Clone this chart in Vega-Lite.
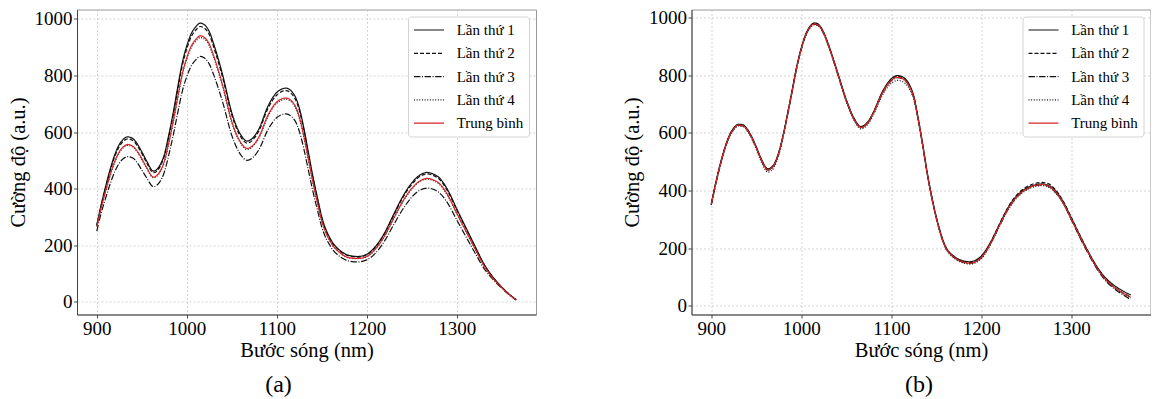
{
"$schema": "https://vega.github.io/schema/vega-lite/v6.json",
"background": "white",
"padding": {"left": 7, "top": 7.5, "right": 0, "bottom": 0},
"spacing": 155.5,
"bounds": "flush",
"config": {
  "font": "Liberation Serif",
  "view": {"stroke": "#999999", "strokeWidth": 1},
  "axis": {"labelFont": "Liberation Serif", "titleFont": "Liberation Serif"},
  "legend": {"labelFont": "Liberation Serif"},
  "title": {"font": "Liberation Serif", "fontSize": 24, "fontWeight": "normal", "color": "#000"}
},
"resolve": {"scale": {"color": "independent", "strokeDash": "independent", "strokeWidth": "independent"}},
"datasets": {
"a": [
{"s":"Lần thứ 1","x":900,"y":272},{"s":"Lần thứ 1","x":905,"y":345},{"s":"Lần thứ 1","x":910,"y":410},{"s":"Lần thứ 1","x":915,"y":470},{"s":"Lần thứ 1","x":920,"y":520},{"s":"Lần thứ 1","x":925,"y":556},{"s":"Lần thứ 1","x":930,"y":576},{"s":"Lần thứ 1","x":934,"y":583},{"s":"Lần thứ 1","x":940,"y":577},{"s":"Lần thứ 1","x":945,"y":558},{"s":"Lần thứ 1","x":950,"y":530},{"s":"Lần thứ 1","x":955,"y":500},{"s":"Lần thứ 1","x":963,"y":462},{"s":"Lần thứ 1","x":970,"y":482},{"s":"Lần thứ 1","x":975,"y":520},{"s":"Lần thứ 1","x":980,"y":590},{"s":"Lần thứ 1","x":985,"y":670},{"s":"Lần thứ 1","x":990,"y":760},{"s":"Lần thứ 1","x":995,"y":845},{"s":"Lần thứ 1","x":1000,"y":905},{"s":"Lần thứ 1","x":1005,"y":948},{"s":"Lần thứ 1","x":1010,"y":972},{"s":"Lần thứ 1","x":1015,"y":985},{"s":"Lần thứ 1","x":1020,"y":978},{"s":"Lần thứ 1","x":1025,"y":955},{"s":"Lần thứ 1","x":1030,"y":910},{"s":"Lần thứ 1","x":1040,"y":800},{"s":"Lần thứ 1","x":1050,"y":668},{"s":"Lần thứ 1","x":1060,"y":590},{"s":"Lần thứ 1","x":1067,"y":568},{"s":"Lần thứ 1","x":1075,"y":585},{"s":"Lần thứ 1","x":1080,"y":610},{"s":"Lần thứ 1","x":1090,"y":690},{"s":"Lần thứ 1","x":1100,"y":740},{"s":"Lần thứ 1","x":1110,"y":755},{"s":"Lần thứ 1","x":1120,"y":728},{"s":"Lần thứ 1","x":1125,"y":685},{"s":"Lần thứ 1","x":1130,"y":615},{"s":"Lần thứ 1","x":1135,"y":530},{"s":"Lần thứ 1","x":1140,"y":445},{"s":"Lần thứ 1","x":1145,"y":370},{"s":"Lần thứ 1","x":1150,"y":300},{"s":"Lần thứ 1","x":1160,"y":220},{"s":"Lần thứ 1","x":1170,"y":182},{"s":"Lần thứ 1","x":1180,"y":164},{"s":"Lần thứ 1","x":1190,"y":160},{"s":"Lần thứ 1","x":1200,"y":168},{"s":"Lần thứ 1","x":1210,"y":197},{"s":"Lần thứ 1","x":1220,"y":245},{"s":"Lần thứ 1","x":1230,"y":310},{"s":"Lần thứ 1","x":1240,"y":372},{"s":"Lần thứ 1","x":1250,"y":420},{"s":"Lần thứ 1","x":1260,"y":450},{"s":"Lần thứ 1","x":1267,"y":457},{"s":"Lần thứ 1","x":1275,"y":450},{"s":"Lần thứ 1","x":1280,"y":440},{"s":"Lần thứ 1","x":1290,"y":395},{"s":"Lần thứ 1","x":1300,"y":328},{"s":"Lần thứ 1","x":1310,"y":263},{"s":"Lần thứ 1","x":1320,"y":198},{"s":"Lần thứ 1","x":1330,"y":135},{"s":"Lần thứ 1","x":1340,"y":88},{"s":"Lần thứ 1","x":1350,"y":52},{"s":"Lần thứ 1","x":1360,"y":22},{"s":"Lần thứ 1","x":1366,"y":7},
{"s":"Lần thứ 2","x":900,"y":270},{"s":"Lần thứ 2","x":905,"y":341},{"s":"Lần thứ 2","x":910,"y":405},{"s":"Lần thứ 2","x":915,"y":464},{"s":"Lần thứ 2","x":920,"y":514},{"s":"Lần thứ 2","x":925,"y":549},{"s":"Lần thứ 2","x":930,"y":569},{"s":"Lần thứ 2","x":934,"y":576},{"s":"Lần thứ 2","x":940,"y":570},{"s":"Lần thứ 2","x":945,"y":551},{"s":"Lần thứ 2","x":950,"y":524},{"s":"Lần thứ 2","x":955,"y":494},{"s":"Lần thứ 2","x":963,"y":456},{"s":"Lần thứ 2","x":970,"y":476},{"s":"Lần thứ 2","x":975,"y":514},{"s":"Lần thứ 2","x":980,"y":583},{"s":"Lần thứ 2","x":985,"y":662},{"s":"Lần thứ 2","x":990,"y":751},{"s":"Lần thứ 2","x":995,"y":835},{"s":"Lần thứ 2","x":1000,"y":894},{"s":"Lần thứ 2","x":1005,"y":937},{"s":"Lần thứ 2","x":1010,"y":960},{"s":"Lần thứ 2","x":1015,"y":973},{"s":"Lần thứ 2","x":1020,"y":966},{"s":"Lần thứ 2","x":1025,"y":944},{"s":"Lần thứ 2","x":1030,"y":899},{"s":"Lần thứ 2","x":1040,"y":790},{"s":"Lần thứ 2","x":1050,"y":660},{"s":"Lần thứ 2","x":1060,"y":583},{"s":"Lần thứ 2","x":1067,"y":561},{"s":"Lần thứ 2","x":1075,"y":578},{"s":"Lần thứ 2","x":1080,"y":603},{"s":"Lần thứ 2","x":1090,"y":682},{"s":"Lần thứ 2","x":1100,"y":731},{"s":"Lần thứ 2","x":1110,"y":746},{"s":"Lần thứ 2","x":1120,"y":719},{"s":"Lần thứ 2","x":1125,"y":677},{"s":"Lần thứ 2","x":1130,"y":608},{"s":"Lần thứ 2","x":1135,"y":524},{"s":"Lần thứ 2","x":1140,"y":440},{"s":"Lần thứ 2","x":1145,"y":366},{"s":"Lần thứ 2","x":1150,"y":296},{"s":"Lần thứ 2","x":1160,"y":217},{"s":"Lần thứ 2","x":1170,"y":180},{"s":"Lần thứ 2","x":1180,"y":162},{"s":"Lần thứ 2","x":1190,"y":158},{"s":"Lần thứ 2","x":1200,"y":166},{"s":"Lần thứ 2","x":1210,"y":195},{"s":"Lần thứ 2","x":1220,"y":242},{"s":"Lần thứ 2","x":1230,"y":306},{"s":"Lần thứ 2","x":1240,"y":368},{"s":"Lần thứ 2","x":1250,"y":415},{"s":"Lần thứ 2","x":1260,"y":445},{"s":"Lần thứ 2","x":1267,"y":452},{"s":"Lần thứ 2","x":1275,"y":445},{"s":"Lần thứ 2","x":1280,"y":435},{"s":"Lần thứ 2","x":1290,"y":390},{"s":"Lần thứ 2","x":1300,"y":324},{"s":"Lần thứ 2","x":1310,"y":260},{"s":"Lần thứ 2","x":1320,"y":196},{"s":"Lần thứ 2","x":1330,"y":133},{"s":"Lần thứ 2","x":1340,"y":87},{"s":"Lần thứ 2","x":1350,"y":51},{"s":"Lần thứ 2","x":1360,"y":22},{"s":"Lần thứ 2","x":1366,"y":7},
{"s":"Lần thứ 3","x":900,"y":250},{"s":"Lần thứ 3","x":905,"y":315},{"s":"Lần thứ 3","x":910,"y":368},{"s":"Lần thứ 3","x":915,"y":418},{"s":"Lần thứ 3","x":920,"y":460},{"s":"Lần thứ 3","x":925,"y":490},{"s":"Lần thứ 3","x":930,"y":507},{"s":"Lần thứ 3","x":934,"y":513},{"s":"Lần thứ 3","x":940,"y":508},{"s":"Lần thứ 3","x":945,"y":491},{"s":"Lần thứ 3","x":950,"y":466},{"s":"Lần thứ 3","x":955,"y":440},{"s":"Lần thứ 3","x":963,"y":407},{"s":"Lần thứ 3","x":970,"y":424},{"s":"Lần thứ 3","x":975,"y":458},{"s":"Lần thứ 3","x":980,"y":519},{"s":"Lần thứ 3","x":985,"y":590},{"s":"Lần thứ 3","x":990,"y":669},{"s":"Lần thứ 3","x":995,"y":744},{"s":"Lần thứ 3","x":1000,"y":796},{"s":"Lần thứ 3","x":1005,"y":834},{"s":"Lần thứ 3","x":1010,"y":855},{"s":"Lần thứ 3","x":1015,"y":867},{"s":"Lần thứ 3","x":1020,"y":861},{"s":"Lần thứ 3","x":1025,"y":840},{"s":"Lần thứ 3","x":1030,"y":801},{"s":"Lần thứ 3","x":1040,"y":704},{"s":"Lần thứ 3","x":1050,"y":588},{"s":"Lần thứ 3","x":1060,"y":519},{"s":"Lần thứ 3","x":1067,"y":500},{"s":"Lần thứ 3","x":1075,"y":515},{"s":"Lần thứ 3","x":1080,"y":537},{"s":"Lần thứ 3","x":1090,"y":607},{"s":"Lần thứ 3","x":1100,"y":651},{"s":"Lần thứ 3","x":1110,"y":664},{"s":"Lần thứ 3","x":1120,"y":641},{"s":"Lần thứ 3","x":1125,"y":603},{"s":"Lần thứ 3","x":1130,"y":541},{"s":"Lần thứ 3","x":1135,"y":466},{"s":"Lần thứ 3","x":1140,"y":392},{"s":"Lần thứ 3","x":1145,"y":326},{"s":"Lần thứ 3","x":1150,"y":264},{"s":"Lần thứ 3","x":1160,"y":194},{"s":"Lần thứ 3","x":1170,"y":160},{"s":"Lần thứ 3","x":1180,"y":144},{"s":"Lần thứ 3","x":1190,"y":141},{"s":"Lần thứ 3","x":1200,"y":148},{"s":"Lần thứ 3","x":1210,"y":173},{"s":"Lần thứ 3","x":1220,"y":216},{"s":"Lần thứ 3","x":1230,"y":273},{"s":"Lần thứ 3","x":1240,"y":327},{"s":"Lần thứ 3","x":1250,"y":370},{"s":"Lần thứ 3","x":1260,"y":396},{"s":"Lần thứ 3","x":1267,"y":402},{"s":"Lần thứ 3","x":1275,"y":396},{"s":"Lần thứ 3","x":1280,"y":387},{"s":"Lần thứ 3","x":1290,"y":348},{"s":"Lần thứ 3","x":1300,"y":289},{"s":"Lần thứ 3","x":1310,"y":231},{"s":"Lần thứ 3","x":1320,"y":174},{"s":"Lần thứ 3","x":1330,"y":119},{"s":"Lần thứ 3","x":1340,"y":80},{"s":"Lần thứ 3","x":1350,"y":48},{"s":"Lần thứ 3","x":1360,"y":20},{"s":"Lần thứ 3","x":1366,"y":6},
{"s":"Lần thứ 4","x":900,"y":268},{"s":"Lần thứ 4","x":905,"y":333},{"s":"Lần thứ 4","x":910,"y":392},{"s":"Lần thứ 4","x":915,"y":447},{"s":"Lần thứ 4","x":920,"y":493},{"s":"Lần thứ 4","x":925,"y":527},{"s":"Lần thứ 4","x":930,"y":546},{"s":"Lần thứ 4","x":934,"y":553},{"s":"Lần thứ 4","x":940,"y":547},{"s":"Lần thứ 4","x":945,"y":529},{"s":"Lần thứ 4","x":950,"y":502},{"s":"Lần thứ 4","x":955,"y":474},{"s":"Lần thứ 4","x":963,"y":438},{"s":"Lần thứ 4","x":970,"y":457},{"s":"Lần thứ 4","x":975,"y":493},{"s":"Lần thứ 4","x":980,"y":559},{"s":"Lần thứ 4","x":985,"y":635},{"s":"Lần thứ 4","x":990,"y":720},{"s":"Lần thứ 4","x":995,"y":801},{"s":"Lần thứ 4","x":1000,"y":858},{"s":"Lần thứ 4","x":1005,"y":899},{"s":"Lần thứ 4","x":1010,"y":921},{"s":"Lần thứ 4","x":1015,"y":934},{"s":"Lần thứ 4","x":1020,"y":927},{"s":"Lần thứ 4","x":1025,"y":905},{"s":"Lần thứ 4","x":1030,"y":863},{"s":"Lần thứ 4","x":1040,"y":758},{"s":"Lần thứ 4","x":1050,"y":633},{"s":"Lần thứ 4","x":1060,"y":559},{"s":"Lần thứ 4","x":1067,"y":538},{"s":"Lần thứ 4","x":1075,"y":555},{"s":"Lần thứ 4","x":1080,"y":578},{"s":"Lần thứ 4","x":1090,"y":654},{"s":"Lần thứ 4","x":1100,"y":702},{"s":"Lần thứ 4","x":1110,"y":716},{"s":"Lần thứ 4","x":1120,"y":690},{"s":"Lần thứ 4","x":1125,"y":649},{"s":"Lần thứ 4","x":1130,"y":583},{"s":"Lần thứ 4","x":1135,"y":502},{"s":"Lần thứ 4","x":1140,"y":422},{"s":"Lần thứ 4","x":1145,"y":351},{"s":"Lần thứ 4","x":1150,"y":284},{"s":"Lần thứ 4","x":1160,"y":209},{"s":"Lần thứ 4","x":1170,"y":173},{"s":"Lần thứ 4","x":1180,"y":155},{"s":"Lần thứ 4","x":1190,"y":152},{"s":"Lần thứ 4","x":1200,"y":159},{"s":"Lần thứ 4","x":1210,"y":187},{"s":"Lần thứ 4","x":1220,"y":232},{"s":"Lần thứ 4","x":1230,"y":294},{"s":"Lần thứ 4","x":1240,"y":353},{"s":"Lần thứ 4","x":1250,"y":398},{"s":"Lần thứ 4","x":1260,"y":427},{"s":"Lần thứ 4","x":1267,"y":433},{"s":"Lần thứ 4","x":1275,"y":427},{"s":"Lần thứ 4","x":1280,"y":417},{"s":"Lần thứ 4","x":1290,"y":374},{"s":"Lần thứ 4","x":1300,"y":311},{"s":"Lần thứ 4","x":1310,"y":249},{"s":"Lần thứ 4","x":1320,"y":188},{"s":"Lần thứ 4","x":1330,"y":128},{"s":"Lần thứ 4","x":1340,"y":84},{"s":"Lần thứ 4","x":1350,"y":50},{"s":"Lần thứ 4","x":1360,"y":21},{"s":"Lần thứ 4","x":1366,"y":7},
{"s":"Trung bình","x":900,"y":265},{"s":"Trung bình","x":905,"y":334},{"s":"Trung bình","x":910,"y":394},{"s":"Trung bình","x":915,"y":450},{"s":"Trung bình","x":920,"y":497},{"s":"Trung bình","x":925,"y":530},{"s":"Trung bình","x":930,"y":549},{"s":"Trung bình","x":934,"y":556},{"s":"Trung bình","x":940,"y":550},{"s":"Trung bình","x":945,"y":532},{"s":"Trung bình","x":950,"y":506},{"s":"Trung bình","x":955,"y":477},{"s":"Trung bình","x":963,"y":441},{"s":"Trung bình","x":970,"y":460},{"s":"Trung bình","x":975,"y":496},{"s":"Trung bình","x":980,"y":563},{"s":"Trung bình","x":985,"y":639},{"s":"Trung bình","x":990,"y":725},{"s":"Trung bình","x":995,"y":806},{"s":"Trung bình","x":1000,"y":863},{"s":"Trung bình","x":1005,"y":904},{"s":"Trung bình","x":1010,"y":927},{"s":"Trung bình","x":1015,"y":940},{"s":"Trung bình","x":1020,"y":933},{"s":"Trung bình","x":1025,"y":911},{"s":"Trung bình","x":1030,"y":868},{"s":"Trung bình","x":1040,"y":763},{"s":"Trung bình","x":1050,"y":637},{"s":"Trung bình","x":1060,"y":563},{"s":"Trung bình","x":1067,"y":542},{"s":"Trung bình","x":1075,"y":558},{"s":"Trung bình","x":1080,"y":582},{"s":"Trung bình","x":1090,"y":658},{"s":"Trung bình","x":1100,"y":706},{"s":"Trung bình","x":1110,"y":720},{"s":"Trung bình","x":1120,"y":695},{"s":"Trung bình","x":1125,"y":653},{"s":"Trung bình","x":1130,"y":587},{"s":"Trung bình","x":1135,"y":506},{"s":"Trung bình","x":1140,"y":425},{"s":"Trung bình","x":1145,"y":353},{"s":"Trung bình","x":1150,"y":286},{"s":"Trung bình","x":1160,"y":210},{"s":"Trung bình","x":1170,"y":174},{"s":"Trung bình","x":1180,"y":156},{"s":"Trung bình","x":1190,"y":153},{"s":"Trung bình","x":1200,"y":160},{"s":"Trung bình","x":1210,"y":188},{"s":"Trung bình","x":1220,"y":234},{"s":"Trung bình","x":1230,"y":296},{"s":"Trung bình","x":1240,"y":355},{"s":"Trung bình","x":1250,"y":401},{"s":"Trung bình","x":1260,"y":429},{"s":"Trung bình","x":1267,"y":436},{"s":"Trung bình","x":1275,"y":429},{"s":"Trung bình","x":1280,"y":420},{"s":"Trung bình","x":1290,"y":377},{"s":"Trung bình","x":1300,"y":313},{"s":"Trung bình","x":1310,"y":251},{"s":"Trung bình","x":1320,"y":189},{"s":"Trung bình","x":1330,"y":129},{"s":"Trung bình","x":1340,"y":84},{"s":"Trung bình","x":1350,"y":50},{"s":"Trung bình","x":1360,"y":21},{"s":"Trung bình","x":1366,"y":7}
],
"b": [
{"s":"Lần thứ 1","x":900,"y":355},{"s":"Lần thứ 1","x":905,"y":428},{"s":"Lần thứ 1","x":910,"y":493},{"s":"Lần thứ 1","x":915,"y":548},{"s":"Lần thứ 1","x":920,"y":591},{"s":"Lần thứ 1","x":925,"y":617},{"s":"Lần thứ 1","x":930,"y":630},{"s":"Lần thứ 1","x":935,"y":628},{"s":"Lần thứ 1","x":940,"y":613},{"s":"Lần thứ 1","x":945,"y":586},{"s":"Lần thứ 1","x":950,"y":551},{"s":"Lần thứ 1","x":955,"y":513},{"s":"Lần thứ 1","x":963,"y":475},{"s":"Lần thứ 1","x":970,"y":493},{"s":"Lần thứ 1","x":975,"y":533},{"s":"Lần thứ 1","x":980,"y":595},{"s":"Lần thứ 1","x":985,"y":671},{"s":"Lần thứ 1","x":990,"y":751},{"s":"Lần thứ 1","x":995,"y":831},{"s":"Lần thứ 1","x":1000,"y":895},{"s":"Lần thứ 1","x":1005,"y":943},{"s":"Lần thứ 1","x":1010,"y":971},{"s":"Lần thứ 1","x":1015,"y":981},{"s":"Lần thứ 1","x":1020,"y":973},{"s":"Lần thứ 1","x":1025,"y":948},{"s":"Lần thứ 1","x":1030,"y":908},{"s":"Lần thứ 1","x":1040,"y":813},{"s":"Lần thứ 1","x":1050,"y":715},{"s":"Lần thứ 1","x":1060,"y":643},{"s":"Lần thứ 1","x":1066,"y":622},{"s":"Lần thứ 1","x":1075,"y":643},{"s":"Lần thứ 1","x":1080,"y":671},{"s":"Lần thứ 1","x":1090,"y":742},{"s":"Lần thứ 1","x":1100,"y":788},{"s":"Lần thứ 1","x":1107,"y":799},{"s":"Lần thứ 1","x":1115,"y":789},{"s":"Lần thứ 1","x":1120,"y":768},{"s":"Lần thứ 1","x":1125,"y":727},{"s":"Lần thứ 1","x":1130,"y":649},{"s":"Lần thứ 1","x":1135,"y":558},{"s":"Lần thứ 1","x":1140,"y":461},{"s":"Lần thứ 1","x":1145,"y":378},{"s":"Lần thứ 1","x":1150,"y":308},{"s":"Lần thứ 1","x":1160,"y":208},{"s":"Lần thứ 1","x":1170,"y":171},{"s":"Lần thứ 1","x":1180,"y":156},{"s":"Lần thứ 1","x":1187,"y":153},{"s":"Lần thứ 1","x":1200,"y":173},{"s":"Lần thứ 1","x":1210,"y":219},{"s":"Lần thứ 1","x":1220,"y":281},{"s":"Lần thứ 1","x":1230,"y":341},{"s":"Lần thứ 1","x":1240,"y":383},{"s":"Lần thứ 1","x":1250,"y":408},{"s":"Lần thứ 1","x":1260,"y":420},{"s":"Lần thứ 1","x":1268,"y":423},{"s":"Lần thứ 1","x":1275,"y":417},{"s":"Lần thứ 1","x":1280,"y":407},{"s":"Lần thứ 1","x":1290,"y":366},{"s":"Lần thứ 1","x":1300,"y":305},{"s":"Lần thứ 1","x":1310,"y":241},{"s":"Lần thứ 1","x":1320,"y":181},{"s":"Lần thứ 1","x":1330,"y":129},{"s":"Lần thứ 1","x":1340,"y":91},{"s":"Lần thứ 1","x":1350,"y":66},{"s":"Lần thứ 1","x":1360,"y":47},{"s":"Lần thứ 1","x":1366,"y":38},
{"s":"Lần thứ 2","x":900,"y":354},{"s":"Lần thứ 2","x":905,"y":427},{"s":"Lần thứ 2","x":910,"y":492},{"s":"Lần thứ 2","x":915,"y":547},{"s":"Lần thứ 2","x":920,"y":590},{"s":"Lần thứ 2","x":925,"y":616},{"s":"Lần thứ 2","x":930,"y":629},{"s":"Lần thứ 2","x":935,"y":627},{"s":"Lần thứ 2","x":940,"y":612},{"s":"Lần thứ 2","x":945,"y":585},{"s":"Lần thứ 2","x":950,"y":550},{"s":"Lần thứ 2","x":955,"y":512},{"s":"Lần thứ 2","x":963,"y":474},{"s":"Lần thứ 2","x":970,"y":492},{"s":"Lần thứ 2","x":975,"y":532},{"s":"Lần thứ 2","x":980,"y":594},{"s":"Lần thứ 2","x":985,"y":670},{"s":"Lần thứ 2","x":990,"y":750},{"s":"Lần thứ 2","x":995,"y":830},{"s":"Lần thứ 2","x":1000,"y":894},{"s":"Lần thứ 2","x":1005,"y":942},{"s":"Lần thứ 2","x":1010,"y":970},{"s":"Lần thứ 2","x":1015,"y":982},{"s":"Lần thứ 2","x":1020,"y":974},{"s":"Lần thứ 2","x":1025,"y":947},{"s":"Lần thứ 2","x":1030,"y":907},{"s":"Lần thứ 2","x":1040,"y":812},{"s":"Lần thứ 2","x":1050,"y":714},{"s":"Lần thứ 2","x":1060,"y":642},{"s":"Lần thứ 2","x":1066,"y":621},{"s":"Lần thứ 2","x":1075,"y":642},{"s":"Lần thứ 2","x":1080,"y":670},{"s":"Lần thứ 2","x":1090,"y":740},{"s":"Lần thứ 2","x":1100,"y":785},{"s":"Lần thứ 2","x":1107,"y":796},{"s":"Lần thứ 2","x":1115,"y":786},{"s":"Lần thứ 2","x":1120,"y":765},{"s":"Lần thứ 2","x":1125,"y":725},{"s":"Lần thứ 2","x":1130,"y":648},{"s":"Lần thứ 2","x":1135,"y":558},{"s":"Lần thứ 2","x":1140,"y":461},{"s":"Lần thứ 2","x":1145,"y":378},{"s":"Lần thứ 2","x":1150,"y":308},{"s":"Lần thứ 2","x":1160,"y":207},{"s":"Lần thứ 2","x":1170,"y":170},{"s":"Lần thứ 2","x":1180,"y":154},{"s":"Lần thứ 2","x":1187,"y":150},{"s":"Lần thứ 2","x":1200,"y":170},{"s":"Lần thứ 2","x":1210,"y":218},{"s":"Lần thứ 2","x":1220,"y":283},{"s":"Lần thứ 2","x":1230,"y":344},{"s":"Lần thứ 2","x":1240,"y":387},{"s":"Lần thứ 2","x":1250,"y":412},{"s":"Lần thứ 2","x":1260,"y":425},{"s":"Lần thứ 2","x":1268,"y":428},{"s":"Lần thứ 2","x":1275,"y":423},{"s":"Lần thứ 2","x":1280,"y":411},{"s":"Lần thứ 2","x":1290,"y":369},{"s":"Lần thứ 2","x":1300,"y":307},{"s":"Lần thứ 2","x":1310,"y":242},{"s":"Lần thứ 2","x":1320,"y":181},{"s":"Lần thứ 2","x":1330,"y":127},{"s":"Lần thứ 2","x":1340,"y":87},{"s":"Lần thứ 2","x":1350,"y":60},{"s":"Lần thứ 2","x":1360,"y":40},{"s":"Lần thứ 2","x":1366,"y":32},
{"s":"Lần thứ 3","x":900,"y":350},{"s":"Lần thứ 3","x":905,"y":423},{"s":"Lần thứ 3","x":910,"y":488},{"s":"Lần thứ 3","x":915,"y":544},{"s":"Lần thứ 3","x":920,"y":587},{"s":"Lần thứ 3","x":925,"y":613},{"s":"Lần thứ 3","x":930,"y":626},{"s":"Lần thứ 3","x":935,"y":624},{"s":"Lần thứ 3","x":940,"y":609},{"s":"Lần thứ 3","x":945,"y":582},{"s":"Lần thứ 3","x":950,"y":547},{"s":"Lần thứ 3","x":955,"y":509},{"s":"Lần thứ 3","x":963,"y":471},{"s":"Lần thứ 3","x":970,"y":489},{"s":"Lần thứ 3","x":975,"y":529},{"s":"Lần thứ 3","x":980,"y":591},{"s":"Lần thứ 3","x":985,"y":667},{"s":"Lần thứ 3","x":990,"y":747},{"s":"Lần thứ 3","x":995,"y":827},{"s":"Lần thứ 3","x":1000,"y":891},{"s":"Lần thứ 3","x":1005,"y":939},{"s":"Lần thứ 3","x":1010,"y":967},{"s":"Lần thứ 3","x":1015,"y":977},{"s":"Lần thứ 3","x":1020,"y":969},{"s":"Lần thứ 3","x":1025,"y":944},{"s":"Lần thứ 3","x":1030,"y":904},{"s":"Lần thứ 3","x":1040,"y":809},{"s":"Lần thứ 3","x":1050,"y":711},{"s":"Lần thứ 3","x":1060,"y":639},{"s":"Lần thứ 3","x":1066,"y":618},{"s":"Lần thứ 3","x":1075,"y":639},{"s":"Lần thứ 3","x":1080,"y":667},{"s":"Lần thứ 3","x":1090,"y":737},{"s":"Lần thứ 3","x":1100,"y":781},{"s":"Lần thứ 3","x":1107,"y":792},{"s":"Lần thứ 3","x":1115,"y":782},{"s":"Lần thứ 3","x":1120,"y":761},{"s":"Lần thứ 3","x":1125,"y":721},{"s":"Lần thứ 3","x":1130,"y":644},{"s":"Lần thứ 3","x":1135,"y":554},{"s":"Lần thứ 3","x":1140,"y":457},{"s":"Lần thứ 3","x":1145,"y":374},{"s":"Lần thứ 3","x":1150,"y":304},{"s":"Lần thứ 3","x":1160,"y":204},{"s":"Lần thứ 3","x":1170,"y":167},{"s":"Lần thứ 3","x":1180,"y":151},{"s":"Lần thứ 3","x":1187,"y":147},{"s":"Lần thứ 3","x":1200,"y":167},{"s":"Lần thứ 3","x":1210,"y":214},{"s":"Lần thứ 3","x":1220,"y":277},{"s":"Lần thứ 3","x":1230,"y":337},{"s":"Lần thứ 3","x":1240,"y":379},{"s":"Lần thứ 3","x":1250,"y":404},{"s":"Lần thứ 3","x":1260,"y":417},{"s":"Lần thứ 3","x":1268,"y":420},{"s":"Lần thứ 3","x":1275,"y":414},{"s":"Lần thứ 3","x":1280,"y":402},{"s":"Lần thứ 3","x":1290,"y":361},{"s":"Lần thứ 3","x":1300,"y":299},{"s":"Lần thứ 3","x":1310,"y":234},{"s":"Lần thứ 3","x":1320,"y":174},{"s":"Lần thứ 3","x":1330,"y":121},{"s":"Lần thứ 3","x":1340,"y":81},{"s":"Lần thứ 3","x":1350,"y":54},{"s":"Lần thứ 3","x":1360,"y":33},{"s":"Lần thứ 3","x":1366,"y":22},
{"s":"Lần thứ 4","x":900,"y":349},{"s":"Lần thứ 4","x":905,"y":422},{"s":"Lần thứ 4","x":910,"y":487},{"s":"Lần thứ 4","x":915,"y":542},{"s":"Lần thứ 4","x":920,"y":585},{"s":"Lần thứ 4","x":925,"y":611},{"s":"Lần thứ 4","x":930,"y":624},{"s":"Lần thứ 4","x":935,"y":622},{"s":"Lần thứ 4","x":940,"y":607},{"s":"Lần thứ 4","x":945,"y":579},{"s":"Lần thứ 4","x":950,"y":543},{"s":"Lần thứ 4","x":955,"y":503},{"s":"Lần thứ 4","x":963,"y":464},{"s":"Lần thứ 4","x":970,"y":482},{"s":"Lần thứ 4","x":975,"y":524},{"s":"Lần thứ 4","x":980,"y":588},{"s":"Lần thứ 4","x":985,"y":665},{"s":"Lần thứ 4","x":990,"y":745},{"s":"Lần thứ 4","x":995,"y":825},{"s":"Lần thứ 4","x":1000,"y":889},{"s":"Lần thứ 4","x":1005,"y":937},{"s":"Lần thứ 4","x":1010,"y":965},{"s":"Lần thứ 4","x":1015,"y":975},{"s":"Lần thứ 4","x":1020,"y":967},{"s":"Lần thứ 4","x":1025,"y":942},{"s":"Lần thứ 4","x":1030,"y":902},{"s":"Lần thứ 4","x":1040,"y":806},{"s":"Lần thứ 4","x":1050,"y":708},{"s":"Lần thứ 4","x":1060,"y":636},{"s":"Lần thứ 4","x":1066,"y":614},{"s":"Lần thứ 4","x":1075,"y":634},{"s":"Lần thứ 4","x":1080,"y":662},{"s":"Lần thứ 4","x":1090,"y":730},{"s":"Lần thứ 4","x":1100,"y":772},{"s":"Lần thứ 4","x":1107,"y":782},{"s":"Lần thứ 4","x":1115,"y":773},{"s":"Lần thứ 4","x":1120,"y":753},{"s":"Lần thứ 4","x":1125,"y":715},{"s":"Lần thứ 4","x":1130,"y":640},{"s":"Lần thứ 4","x":1135,"y":551},{"s":"Lần thứ 4","x":1140,"y":455},{"s":"Lần thứ 4","x":1145,"y":372},{"s":"Lần thứ 4","x":1150,"y":302},{"s":"Lần thứ 4","x":1160,"y":202},{"s":"Lần thứ 4","x":1170,"y":165},{"s":"Lần thứ 4","x":1180,"y":149},{"s":"Lần thứ 4","x":1187,"y":145},{"s":"Lần thứ 4","x":1200,"y":164},{"s":"Lần thứ 4","x":1210,"y":211},{"s":"Lần thứ 4","x":1220,"y":274},{"s":"Lần thứ 4","x":1230,"y":334},{"s":"Lần thứ 4","x":1240,"y":376},{"s":"Lần thứ 4","x":1250,"y":401},{"s":"Lần thứ 4","x":1260,"y":414},{"s":"Lần thứ 4","x":1268,"y":417},{"s":"Lần thứ 4","x":1275,"y":411},{"s":"Lần thứ 4","x":1280,"y":400},{"s":"Lần thứ 4","x":1290,"y":360},{"s":"Lần thứ 4","x":1300,"y":299},{"s":"Lần thứ 4","x":1310,"y":236},{"s":"Lần thứ 4","x":1320,"y":177},{"s":"Lần thứ 4","x":1330,"y":124},{"s":"Lần thứ 4","x":1340,"y":85},{"s":"Lần thứ 4","x":1350,"y":58},{"s":"Lần thứ 4","x":1360,"y":38},{"s":"Lần thứ 4","x":1366,"y":28},
{"s":"Trung bình","x":900,"y":352},{"s":"Trung bình","x":905,"y":425},{"s":"Trung bình","x":910,"y":490},{"s":"Trung bình","x":915,"y":545},{"s":"Trung bình","x":920,"y":588},{"s":"Trung bình","x":925,"y":614},{"s":"Trung bình","x":930,"y":627},{"s":"Trung bình","x":935,"y":625},{"s":"Trung bình","x":940,"y":610},{"s":"Trung bình","x":945,"y":583},{"s":"Trung bình","x":950,"y":548},{"s":"Trung bình","x":955,"y":510},{"s":"Trung bình","x":963,"y":472},{"s":"Trung bình","x":970,"y":490},{"s":"Trung bình","x":975,"y":530},{"s":"Trung bình","x":980,"y":592},{"s":"Trung bình","x":985,"y":668},{"s":"Trung bình","x":990,"y":748},{"s":"Trung bình","x":995,"y":828},{"s":"Trung bình","x":1000,"y":892},{"s":"Trung bình","x":1005,"y":940},{"s":"Trung bình","x":1010,"y":968},{"s":"Trung bình","x":1015,"y":978},{"s":"Trung bình","x":1020,"y":970},{"s":"Trung bình","x":1025,"y":945},{"s":"Trung bình","x":1030,"y":905},{"s":"Trung bình","x":1040,"y":810},{"s":"Trung bình","x":1050,"y":712},{"s":"Trung bình","x":1060,"y":640},{"s":"Trung bình","x":1066,"y":619},{"s":"Trung bình","x":1075,"y":640},{"s":"Trung bình","x":1080,"y":668},{"s":"Trung bình","x":1090,"y":738},{"s":"Trung bình","x":1100,"y":782},{"s":"Trung bình","x":1107,"y":793},{"s":"Trung bình","x":1115,"y":783},{"s":"Trung bình","x":1120,"y":762},{"s":"Trung bình","x":1125,"y":722},{"s":"Trung bình","x":1130,"y":645},{"s":"Trung bình","x":1135,"y":555},{"s":"Trung bình","x":1140,"y":458},{"s":"Trung bình","x":1145,"y":375},{"s":"Trung bình","x":1150,"y":305},{"s":"Trung bình","x":1160,"y":205},{"s":"Trung bình","x":1170,"y":168},{"s":"Trung bình","x":1180,"y":152},{"s":"Trung bình","x":1187,"y":148},{"s":"Trung bình","x":1200,"y":168},{"s":"Trung bình","x":1210,"y":215},{"s":"Trung bình","x":1220,"y":278},{"s":"Trung bình","x":1230,"y":338},{"s":"Trung bình","x":1240,"y":380},{"s":"Trung bình","x":1250,"y":405},{"s":"Trung bình","x":1260,"y":418},{"s":"Trung bình","x":1268,"y":421},{"s":"Trung bình","x":1275,"y":415},{"s":"Trung bình","x":1280,"y":404},{"s":"Trung bình","x":1290,"y":363},{"s":"Trung bình","x":1300,"y":302},{"s":"Trung bình","x":1310,"y":238},{"s":"Trung bình","x":1320,"y":178},{"s":"Trung bình","x":1330,"y":125},{"s":"Trung bình","x":1340,"y":86},{"s":"Trung bình","x":1350,"y":60},{"s":"Trung bình","x":1360,"y":40},{"s":"Trung bình","x":1366,"y":30}
]
},
"hconcat": [
{
  "data": {"name": "a"},
  "width": 459, "height": 305,
  "title": {"text": "(a)", "orient": "bottom", "anchor": "middle", "dx": -28, "offset": 12, "font": "Liberation Serif", "fontSize": 24, "fontWeight": "normal", "color": "#000"},
  "mark": {"type": "line", "interpolate": "monotone"},
  "encoding": {
    "x": {"field": "x", "type": "quantitative", "scale": {"domain": [878, 1388], "nice": false, "zero": false}, "axis": {"title": "Bước sóng (nm)", "values": [900, 1000, 1100, 1200, 1300], "format": "d", "labelFont": "Liberation Serif", "titleFont": "Liberation Serif", "labelFontSize": 19, "titleFontSize": 20.5, "titleFontWeight": "normal", "labelColor": "#000", "titleColor": "#000", "domainColor": "#444", "tickColor": "#444", "tickSize": 3.5, "gridColor": "#c8c8c8", "gridDash": [2, 2], "gridWidth": 0.8, "labelPadding": 1, "titlePadding": 2}},
    "y": {"field": "y", "type": "quantitative", "scale": {"domain": [-45, 1033], "nice": false, "zero": false}, "axis": {"title": "Cường độ (a.u.)", "values": [0, 200, 400, 600, 800, 1000], "format": "d", "labelFont": "Liberation Serif", "titleFont": "Liberation Serif", "labelFontSize": 19, "titleFontSize": 20.5, "titleFontWeight": "normal", "labelColor": "#000", "titleColor": "#000", "domainColor": "#444", "tickColor": "#444", "tickSize": 3.5, "gridColor": "#c8c8c8", "gridDash": [2, 2], "gridWidth": 0.8, "labelPadding": 1.5, "titlePadding": 6}},
    "color": {"field": "s", "type": "nominal", "scale": {"domain": ["Lần thứ 1", "Lần thứ 2", "Lần thứ 3", "Lần thứ 4", "Trung bình"], "range": ["#111111", "#111111", "#111111", "#111111", "#d62728"]}, "legend": {"title": null, "orient": "top-right", "offset": 7, "labelFont": "Liberation Serif", "labelFontSize": 15, "labelColor": "#000", "symbolType": "M-1,0H3", "symbolSize": 225, "padding": 5, "rowPadding": 6.3, "labelOffset": 26.7, "fillColor": "white", "strokeColor": "#d4d4d4", "cornerRadius": 3, "labelLimit": 300}},
    "strokeDash": {"field": "s", "type": "nominal", "scale": {"domain": ["Lần thứ 1", "Lần thứ 2", "Lần thứ 3", "Lần thứ 4", "Trung bình"], "range": [[1, 0], [4, 2], [6.4, 1.6, 1, 1.6], [1, 1.65], [1, 0]]}, "legend": {"title": null}},
    "strokeWidth": {"field": "s", "type": "nominal", "scale": {"domain": ["Lần thứ 1", "Lần thứ 2", "Lần thứ 3", "Lần thứ 4", "Trung bình"], "range": [1.2, 1.2, 1.2, 1.2, 2]}, "legend": {"title": null}}
  }
},
{
  "data": {"name": "b"},
  "width": 459, "height": 305,
  "title": {"text": "(b)", "orient": "bottom", "anchor": "middle", "dx": -2, "offset": 12, "font": "Liberation Serif", "fontSize": 24, "fontWeight": "normal", "color": "#000"},
  "mark": {"type": "line", "interpolate": "monotone"},
  "encoding": {
    "x": {"field": "x", "type": "quantitative", "scale": {"domain": [878, 1388], "nice": false, "zero": false}, "axis": {"title": "Bước sóng (nm)", "values": [900, 1000, 1100, 1200, 1300], "format": "d", "labelFont": "Liberation Serif", "titleFont": "Liberation Serif", "labelFontSize": 19, "titleFontSize": 20.5, "titleFontWeight": "normal", "labelColor": "#000", "titleColor": "#000", "domainColor": "#444", "tickColor": "#444", "tickSize": 3.5, "gridColor": "#c8c8c8", "gridDash": [2, 2], "gridWidth": 0.8, "labelPadding": 1, "titlePadding": 2}},
    "y": {"field": "y", "type": "quantitative", "scale": {"domain": [-30, 1028], "nice": false, "zero": false}, "axis": {"title": "Cường độ (a.u.)", "values": [0, 200, 400, 600, 800, 1000], "format": "d", "labelFont": "Liberation Serif", "titleFont": "Liberation Serif", "labelFontSize": 19, "titleFontSize": 20.5, "titleFontWeight": "normal", "labelColor": "#000", "titleColor": "#000", "domainColor": "#444", "tickColor": "#444", "tickSize": 3.5, "gridColor": "#c8c8c8", "gridDash": [2, 2], "gridWidth": 0.8, "labelPadding": 1.5, "titlePadding": 6}},
    "color": {"field": "s", "type": "nominal", "scale": {"domain": ["Lần thứ 1", "Lần thứ 2", "Lần thứ 3", "Lần thứ 4", "Trung bình"], "range": ["#111111", "#111111", "#111111", "#111111", "#d62728"]}, "legend": {"title": null, "orient": "top-right", "offset": 7, "labelFont": "Liberation Serif", "labelFontSize": 15, "labelColor": "#000", "symbolType": "M-1,0H3", "symbolSize": 225, "padding": 5, "rowPadding": 6.3, "labelOffset": 26.7, "fillColor": "white", "strokeColor": "#d4d4d4", "cornerRadius": 3, "labelLimit": 300}},
    "strokeDash": {"field": "s", "type": "nominal", "scale": {"domain": ["Lần thứ 1", "Lần thứ 2", "Lần thứ 3", "Lần thứ 4", "Trung bình"], "range": [[1, 0], [4, 2], [6.4, 1.6, 1, 1.6], [1, 1.65], [1, 0]]}, "legend": {"title": null}},
    "strokeWidth": {"field": "s", "type": "nominal", "scale": {"domain": ["Lần thứ 1", "Lần thứ 2", "Lần thứ 3", "Lần thứ 4", "Trung bình"], "range": [1.2, 1.2, 1.2, 1.2, 2]}, "legend": {"title": null}}
  }
}
]
}
